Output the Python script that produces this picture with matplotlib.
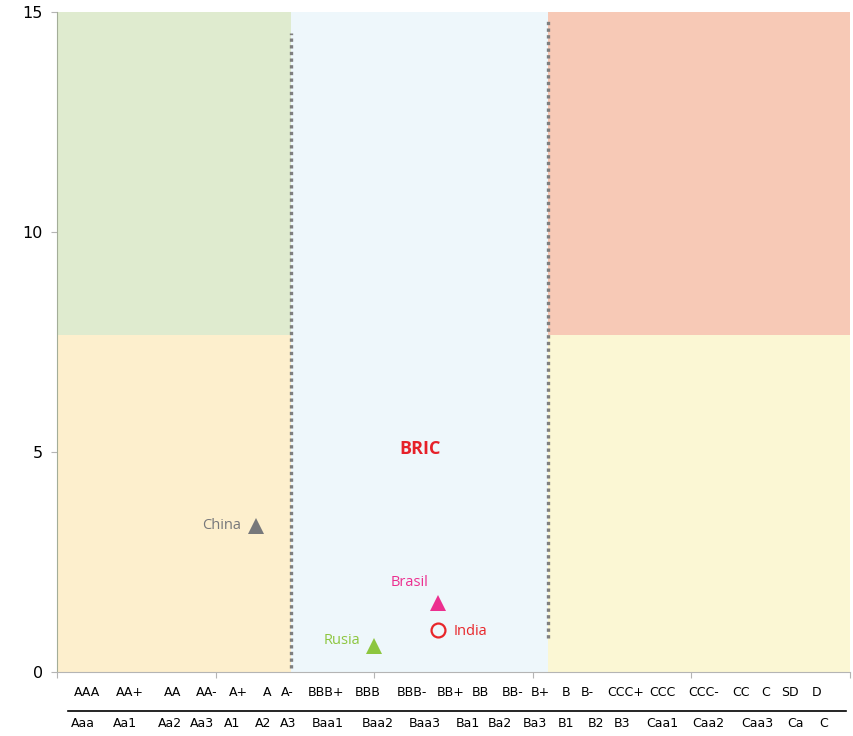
import matplotlib
matplotlib.use('Agg')
import matplotlib.pyplot as plt
import matplotlib.transforms as mtransforms

# Country positions
countries = ['China', 'Rusia', 'Brasil', 'India']
x_vals = [6.28, 10.0, 12.02, 12.02]
y_vals = [3.32, 0.59, 1.57, 0.95]

# Zone limits
x_split = [7.38, 15.49]
y_split = 7.66

# Rating scales drawn under the x axis
sp_ratings = ['AAA', 'AA+', 'AA', 'AA-', 'A+', 'A', 'A-', 'BBB+', 'BBB', 'BBB-',
              'BB+', 'BB', 'BB-', 'B+', 'B', 'B-', 'CCC+', 'CCC', 'CCC-', 'CC',
              'C', 'SD', 'D']
moodys_ratings = ['Aaa', 'Aa1', 'Aa2', 'Aa3', 'A1', 'A2', 'A3', 'Baa1', 'Baa2',
                  'Baa3', 'Ba1', 'Ba2', 'Ba3', 'B1', 'B2', 'B3', 'Caa1', 'Caa2',
                  'Caa3', 'Ca', 'C']


def main():
    # label centres along the x axis
    sp_pos = [0.95, 2.3, 3.63, 4.73, 5.71, 6.63, 7.26, 8.49, 9.81, 11.2,
              12.4, 13.34, 14.35, 15.24, 16.06, 16.72, 17.92, 19.09, 20.38,
              21.55, 22.33, 23.12, 23.94]
    moodys_pos = [0.82, 2.14, 3.56, 4.57, 5.52, 6.5, 7.29, 8.55, 10.1, 11.6,
                  12.94, 13.97, 15.05, 16.06, 17.0, 17.82, 19.09, 20.54,
                  22.08, 23.28, 24.16]

    fig = plt.figure(figsize=(8.54, 7.36), dpi=100)
    ax = fig.add_axes([57 / 854, 64 / 736, 793 / 854, 660 / 736])
    ax.set_xlim(0, 25)
    ax.set_ylim(0, 15)

    # background zones
    ax.fill_between([0, x_split[0]], y_split, 15, color='#dfebcf', lw=0)
    ax.fill_between([0, x_split[0]], 0, y_split, color='#fdefcd', lw=0)
    ax.fill_between([x_split[0], x_split[1]], 0, 15, color='#eef7fb', lw=0)
    ax.fill_between([x_split[1], 25], y_split, 15, color='#f7c9b6', lw=0)
    ax.fill_between([x_split[1], 25], 0, y_split, color='#fbf7d4', lw=0)

    # dotted separators
    ax.vlines(x_split[0], 0.1, 14.52, colors='#7f7f7f', lw=2.4,
              linestyles=(0, (1, 1)))
    ax.vlines(x_split[1], 0.77, 14.8, colors='#7f7f7f', lw=2.4,
              linestyles=(0, (1, 1)))

    ax.text(11.45, 5.07, 'BRIC', color='#e62129', fontsize=13,
            fontweight='bold', ha='center', va='center', family='Open Sans')

    # countries
    styles = {
        'China': dict(marker='^', color='#77787b', off=(-11, 0), ha='right', va='center'),
        'Rusia': dict(marker='^', color='#8dc63f', off=(-10, 4), ha='right', va='center'),
        'Brasil': dict(marker='^', color='#ec2f8f', off=(-21, 15), ha='center', va='center'),
        'India': dict(marker='o', color='#e8262a', off=(11, -1), ha='left', va='center'),
    }
    for name, x, y in zip(countries, x_vals, y_vals):
        st = styles[name]
        if st['marker'] == 'o':
            ax.plot(x, y, 'o', ms=10, mfc='none', mec=st['color'], mew=1.6)
        else:
            ax.plot(x, y, '^', ms=12, color=st['color'], mew=0)
        ax.annotate(name, (x, y), xytext=st['off'], textcoords='offset points',
                    ha=st['ha'], va=st['va'], color=st['color'], fontsize=10.5,
                    family='Open Sans')

    # axes styling
    for s in ['top', 'right']:
        ax.spines[s].set_visible(False)
    ax.spines['left'].set_color('#a3ad98')
    ax.spines['bottom'].set_color('#b4b4b4')
    ax.set_yticks([0, 5, 10, 15])
    ax.set_xticks([0, 5, 10, 15, 20, 25])
    ax.set_xticklabels([])
    ax.tick_params(axis='y', length=4, color='#b4b4b4', labelsize=11.5, pad=6)
    ax.tick_params(axis='x', length=4, color='#b4b4b4')

    # rating scales
    trans = mtransforms.blended_transform_factory(ax.transData, ax.transAxes)
    for lab, x in zip(sp_ratings, sp_pos):
        ax.text(x, -0.031, lab, transform=trans, ha='center', va='center',
                fontsize=9, clip_on=False)
    for lab, x in zip(moodys_ratings, moodys_pos):
        ax.text(x, -0.078, lab, transform=trans, ha='center', va='center',
                fontsize=9, clip_on=False)
    ax.plot([0.35, 24.87], [-0.059, -0.059], color='black', lw=1.2,
            transform=trans, clip_on=False)

    plt.savefig('out.png', dpi=100)


if __name__ == "__main__":
    main()
